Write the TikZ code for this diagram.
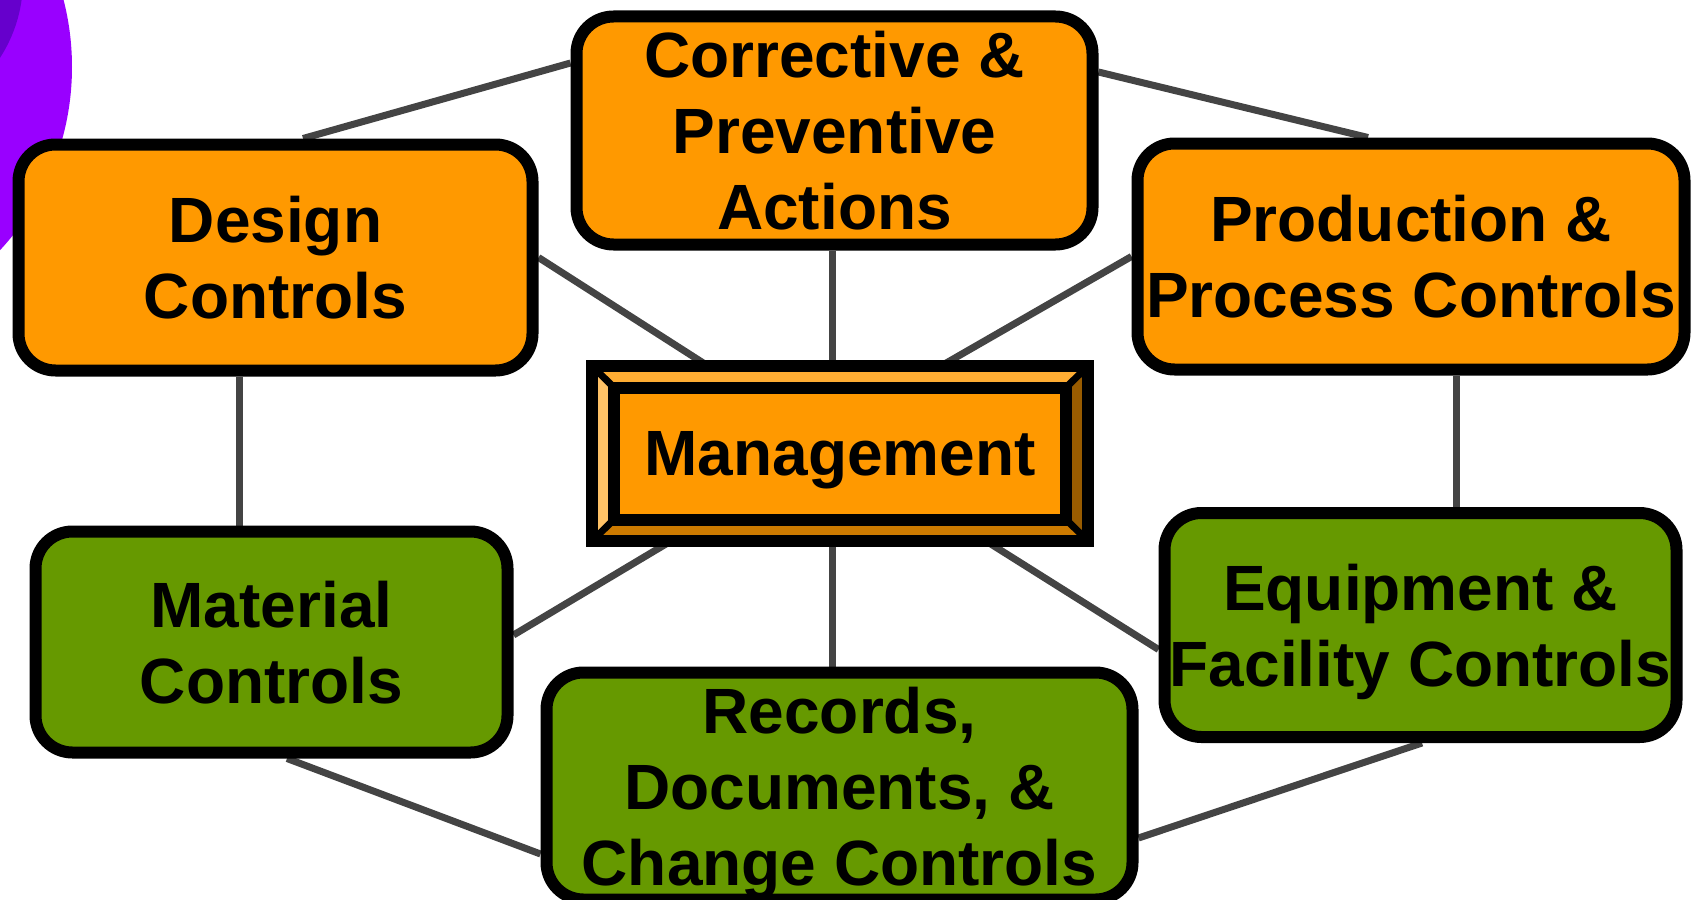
\documentclass[tikz,border=0pt]{standalone}
\usepackage{fontspec}
\setmainfont{Liberation Sans}
\usetikzlibrary{backgrounds}
\definecolor{orng}{HTML}{FF9900}
\definecolor{grn}{HTML}{669900}
\definecolor{linkgray}{HTML}{444444}
\definecolor{purp}{HTML}{9900FF}
\definecolor{dpurp}{HTML}{6600CC}
\definecolor{bevtop}{HTML}{FFAD33}
\definecolor{bevleft}{HTML}{FFC266}
\definecolor{bevright}{HTML}{995C00}
\definecolor{bevbot}{HTML}{CC7A00}
\begin{document}
\begin{tikzpicture}[x=1pt,y=-1pt,
  box/.style={draw=black, line width=12pt, rounded corners=37pt, inner sep=0pt, align=center,
    text depth=0pt, font=\fontsize{64}{76}\selectfont\bfseries},
  obox/.style={box, fill=orng},
  gbox/.style={box, fill=grn},
  link/.style={draw=linkgray, line width=7pt},
  frame/.style={inner sep=0pt, outer sep=0pt}]
\useasboundingbox (0,0) rectangle (1696,899);
% purple decoration
\fill[purp] (-197,67) circle[radius=269];
\fill[dpurp] (-120,-20) circle[radius=143];
% boxes
\node[obox, minimum width=514pt, minimum height=226pt] (design) at (275.5,257.5) {Design\\Controls};
\node[obox, minimum width=516pt, minimum height=228pt] (corr) at (834.5,130.5) {Corrective \&\\Preventive\\Actions};
\node[obox, minimum width=547pt, minimum height=226pt] (prod) at (1411,256.5) {Production \&\\Process Controls};
\node[gbox, minimum width=472pt, minimum height=221pt] (mat) at (271.5,642) {Material\\Controls};
\node[gbox, minimum width=586pt, minimum height=227pt] (rec) at (839.5,786) {Records,\\Documents, \&\\Change Controls};
\node[gbox, minimum width=512pt, minimum height=224pt] (equip) at (1420.5,625) {Equipment \&\\Facility Controls};
% management bevel box
\node[frame, minimum width=496pt, minimum height=175pt] (mgmt) at (840,453.5) {};
\node[frame, minimum width=452pt, minimum height=132pt] (mgmtcore) at (840,453.5) {};
\fill[bevtop] (mgmt.north west) -- (mgmt.north east) -- (mgmtcore.north east) -- (mgmtcore.north west) -- cycle;
\fill[bevbot] (mgmt.south west) -- (mgmt.south east) -- (mgmtcore.south east) -- (mgmtcore.south west) -- cycle;
\fill[bevleft] (mgmt.north west) -- (mgmt.south west) -- (mgmtcore.south west) -- (mgmtcore.north west) -- cycle;
\fill[bevright] (mgmt.north east) -- (mgmt.south east) -- (mgmtcore.south east) -- (mgmtcore.north east) -- cycle;
\draw[line width=7pt] (mgmt.north west) -- (mgmtcore.north west)
  (mgmt.north east) -- (mgmtcore.north east)
  (mgmt.south west) -- (mgmtcore.south west)
  (mgmt.south east) -- (mgmtcore.south east);
\draw[line width=12pt] (mgmt.north west) rectangle (mgmt.south east);
\node[frame, draw=black, fill=orng, line width=12pt, minimum width=452pt, minimum height=132pt,
  text depth=0pt, font=\fontsize{64}{76}\selectfont\bfseries] (mgmtin) at (840,453.5) {Management};
% connectors
\begin{pgfonlayer}{background}
\draw[link] ([xshift=27.5pt]design.north) -- ([yshift=67.5pt]corr.west);
\draw[link] ([yshift=58.5pt]corr.east) -- ([xshift=-43pt]prod.north);
\draw[link] (design.east) -- ([xshift=-132pt]mgmt.north);
\draw[link] ([xshift=-2.5pt]corr.south) -- ([xshift=-8pt]mgmt.north);
\draw[link] (prod.west) -- ([xshift=101pt]mgmt.north);
\draw[link] ([xshift=-36.5pt]design.south) -- ([xshift=-32.5pt]mat.north);
\draw[link] ([xshift=45pt]prod.south) -- ([xshift=35.5pt]equip.north);
\draw[link] ([xshift=-169pt]mgmt.south) -- ([yshift=7pt]mat.east);
\draw[link] ([xshift=-8pt]mgmt.south) -- ([xshift=-7.5pt]rec.north);
\draw[link] ([xshift=146pt]mgmt.south) -- ([yshift=-24.5pt]equip.west);
\draw[link] ([xshift=15.5pt]mat.south) -- ([yshift=-68pt]rec.west);
\draw[link] ([yshift=-52pt]rec.east) -- ([xshift=1.5pt]equip.south);
\end{pgfonlayer}
\end{tikzpicture}
\end{document}
